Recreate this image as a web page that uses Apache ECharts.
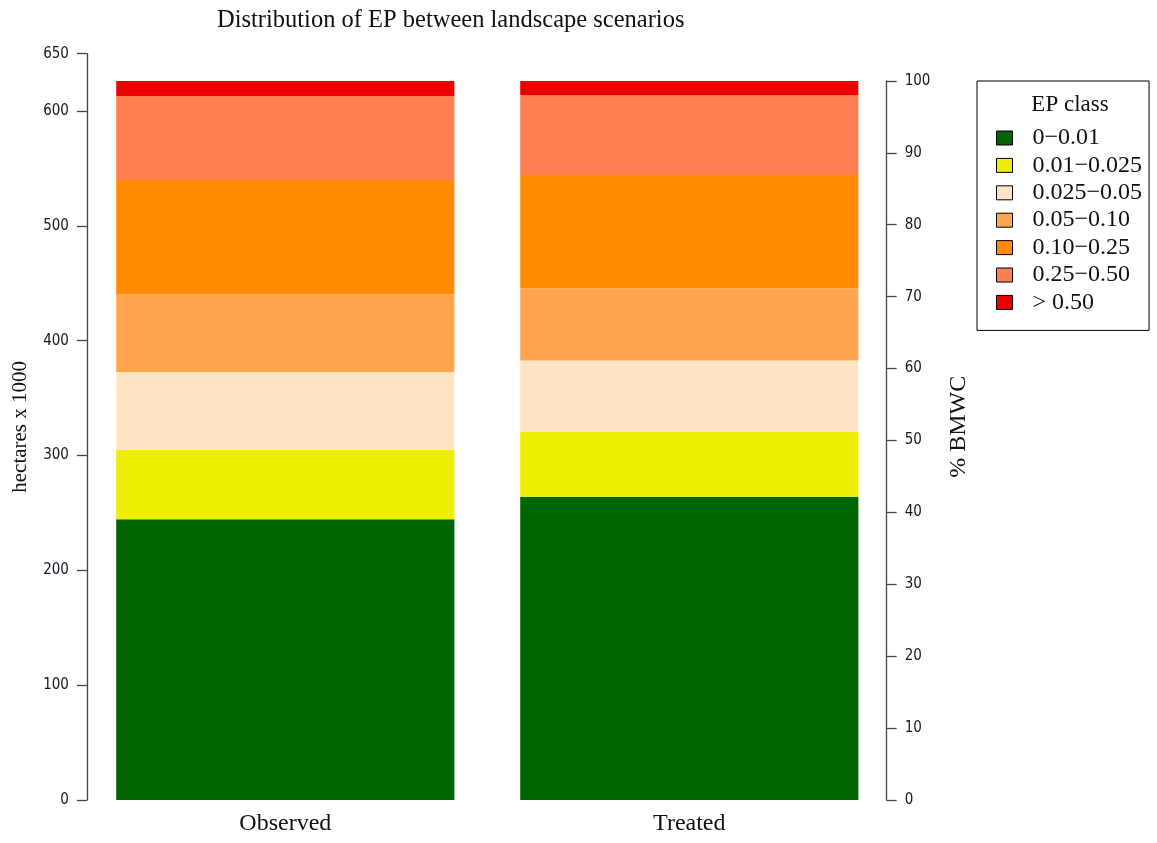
<!DOCTYPE html>
<html>
<head>
<meta charset="utf-8">
<script src="https://cdn.jsdelivr.net/npm/echarts@6/dist/echarts.min.js"></script>
<style>
  html, body { margin: 0; padding: 0; background: #fff; }
  #chart { width: 1157px; height: 843px; }
</style>
</head>
<body>
<div id="chart"></div>
<script>
// Landscape scenarios (x categories)
const categories = ['Observed', 'Treated'];

// EP classes, bottom to top of each stack
const classNames = ['0\u22120.01', '0.01\u22120.025', '0.025\u22120.05', '0.05\u22120.10',
                    '0.10\u22120.25', '0.25\u22120.50', '> 0.50'];

// Area per class, hectares x 1000
const observedHa = [244.5, 60.6, 67.7, 67.4, 99.9, 73.1, 13.1];
const treatedHa  = [264.2, 56.6, 61.9, 63.0, 98.7, 69.5, 12.4];

// Axis ticks
const leftTicks = [0, 100, 200, 300, 400, 500, 600, 650];
const leftMax = 650;
const pctMax = 100;
const pctStep = 10;

// Class colours
const classColors = ['#006400', '#EEEE00', '#FFE4C4', '#FFA54F', '#FF8C00', '#FF7F50', '#EE0000'];

const serif = "'Liberation Serif', 'DejaVu Serif', serif";
const narrow = "'Liberation Sans Narrow', 'DejaVu Sans Condensed', sans-serif";

// total area = 100 % BMWC
const total = observedHa.reduce((a, b) => a + b, 0);

// plot region
const plotLeft = 83.3, plotWidth = 808, plotTop = 53.7, plotHeight = 746.3;
const plotBottom = plotTop + plotHeight;
// the percent axis spans 0..total on the hectare scale
const pctTop = plotTop + plotHeight * (leftMax - total) / leftMax;

const chart = echarts.init(document.getElementById('chart'), null, { renderer: 'canvas' });

const series = classNames.map((name, i) => ({
  name: name,
  type: 'bar',
  stack: 'ep',
  xAxisIndex: 0,
  yAxisIndex: 0,
  barCategoryGap: '16.3%',
  itemStyle: { color: classColors[i] },
  emphasis: { disabled: true },
  data: [observedHa[i], treatedHa[i]]
}));

const tickLabel = { margin: 18, fontFamily: narrow, fontSize: 15, color: '#161625' };
const axisLineStyle = { color: '#444', width: 1.3 };

const option = {
  animation: false,
  backgroundColor: '#ffffff',
  title: [
    {
      text: 'Distribution of EP between landscape scenarios',
      left: 212, top: 3,
      textStyle: { fontFamily: serif, fontSize: 24.5, fontWeight: 'normal', color: '#111' }
    },
    {
      text: 'EP class',
      left: 1065, top: 88, textAlign: 'center',
      textStyle: { fontFamily: serif, fontSize: 23, fontWeight: 'normal', color: '#111' }
    }
  ],
  legend: {
    left: 977, top: 81,
    orient: 'vertical',
    data: classNames,
    padding: [45, 7, 16, 19],
    itemWidth: 16, itemHeight: 14,
    itemGap: 3.4,
    borderColor: '#000', borderWidth: 1,
    selectedMode: false,
    icon: 'rect',
    itemStyle: { borderColor: '#000', borderWidth: 1 },
    textStyle: { fontFamily: serif, fontSize: 24, color: '#111', lineHeight: 21, padding: [0, 0, 0, 15] }
  },
  grid: [
    { left: plotLeft, top: plotTop, width: plotWidth, height: plotHeight },
    { left: plotLeft, top: pctTop, width: plotWidth, height: plotBottom - pctTop }
  ],
  xAxis: [
    {
      type: 'category', gridIndex: 0, data: categories,
      axisLine: { show: false }, axisTick: { show: false },
      axisLabel: { margin: 12, fontFamily: serif, fontSize: 24, color: '#111' }
    },
    { type: 'category', gridIndex: 1, data: categories, show: false }
  ],
  yAxis: [
    {
      type: 'value', gridIndex: 0, position: 'left', offset: -3.6,
      min: 0, max: leftMax,
      name: 'hectares x 1000', nameLocation: 'middle', nameGap: 56, nameRotate: 90,
      nameTextStyle: { fontFamily: serif, fontSize: 21, color: '#111' },
      splitLine: { show: false },
      axisLine: { show: true, lineStyle: axisLineStyle },
      axisTick: { show: true, length: 10, customValues: leftTicks, lineStyle: axisLineStyle },
      axisLabel: Object.assign({ customValues: leftTicks }, tickLabel)
    },
    {
      type: 'value', gridIndex: 1, position: 'right', offset: -4.6,
      min: 0, max: pctMax, interval: pctStep,
      splitLine: { show: false },
      axisLine: { show: true, lineStyle: axisLineStyle },
      axisTick: { show: true, length: 10, lineStyle: axisLineStyle },
      axisLabel: tickLabel
    },
    {
      type: 'value', gridIndex: 0, position: 'right', offset: -4.6,
      min: 0, max: leftMax,
      name: '% BMWC', nameLocation: 'middle', nameGap: 60, nameRotate: 90,
      nameTextStyle: { fontFamily: serif, fontSize: 24, color: '#111' },
      splitLine: { show: false }, axisLine: { show: false },
      axisTick: { show: false }, axisLabel: { show: false }
    }
  ],
  series: series
};

chart.setOption(option);
</script>
</body>
</html>
